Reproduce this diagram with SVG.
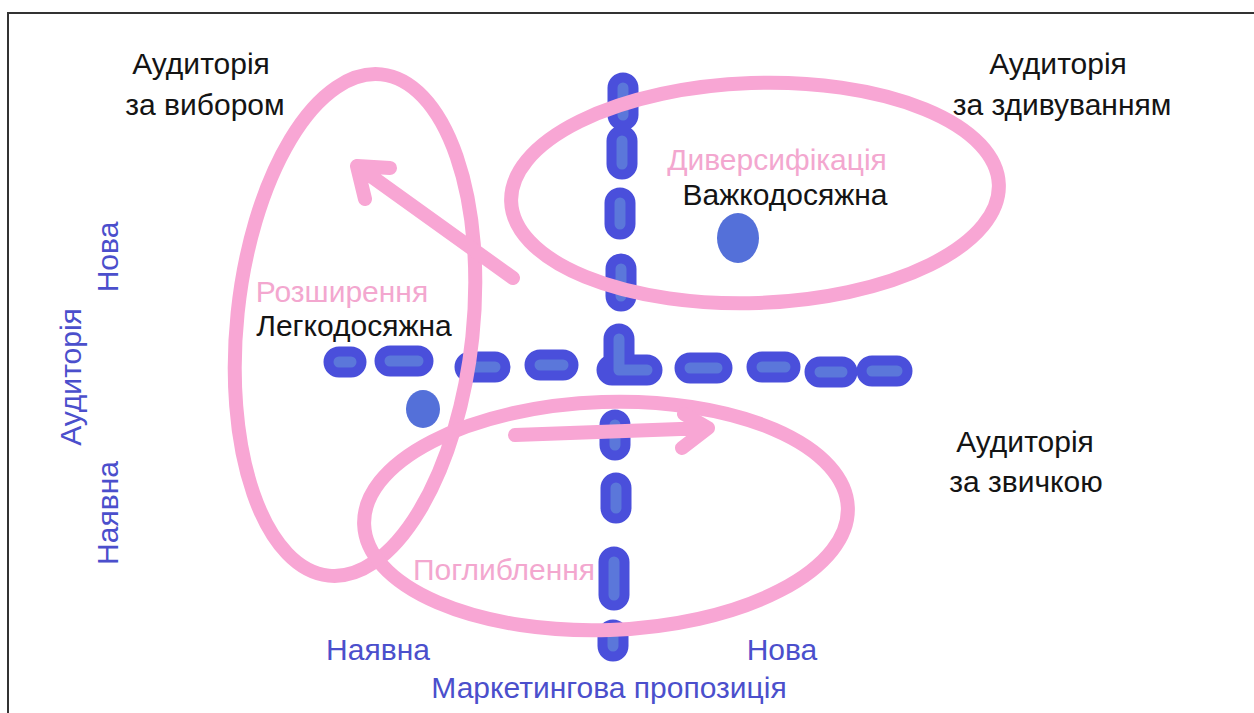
<svg xmlns="http://www.w3.org/2000/svg" width="1254" height="713" viewBox="0 0 1254 713">
<style>
text{font-family:"Liberation Sans",Arial,sans-serif;font-size:30px;text-anchor:middle}
.k{fill:#141414}
.p{fill:#f3a7cf}
.b{fill:#4b4fcc}
.o{fill:none;stroke:#4a4fdb;stroke-width:31;stroke-linecap:round;stroke-linejoin:round}
.i{fill:none;stroke:#5b77da;stroke-width:11;stroke-linecap:round;stroke-linejoin:round}
.pk{fill:none;stroke:#f8a6d4;stroke-width:14;stroke-linecap:round;stroke-linejoin:round}
.dot{fill:#5470d9}
</style>
<rect width="1254" height="713" fill="#fff"/>
<path d="M8,713 V13 H1254" fill="none" stroke="#333" stroke-width="2"/>

<g id="axes">
  <g class="o">
    <path d="M339,362H351M390,361H418M470,367H495M540,365H563M612,370H647M619,339V370M690,368H717M762,367H785M820,372H842M872,371H897"/>
    <path d="M623,88V115M622,141V164M620,203V224M621,269V296M615,425V445M616,488V508M614,562V595M613,635V646"/>
  </g>
  <g class="i">
    <path d="M339,362H351M390,361H418M470,367H495M540,365H563M619,370H647M619,339V370M690,368H717M762,367H785M820,372H842M872,371H897"/>
    <path d="M623,88V115M622,141V164M620,203V224M621,269V296M615,425V445M616,488V508M614,562V595M613,635V646"/>
  </g>
</g>

<g id="dots">
  <ellipse class="dot" cx="738" cy="238" rx="21" ry="25"/>
  <ellipse class="dot" cx="423" cy="409" rx="17" ry="19"/>
</g>

<g id="ellipses">
  <ellipse id="rozshyrennia-loop" class="pk" cx="355" cy="325" rx="118" ry="252" transform="rotate(6 355 325)"/>
  <ellipse id="dyversyfikatsiia-loop" class="pk" cx="755" cy="193" rx="244" ry="110" transform="rotate(-2 755 193)"/>
  <ellipse id="pohlyblennia-loop" class="pk" cx="606" cy="516" rx="242" ry="114" transform="rotate(-2 606 516)"/>
</g>

<g id="connectors">
  <path class="pk" d="M513,278L357,166M390,168L357,166L365,199"/>
  <path class="pk" d="M515,435L708,428M684,414L708,428L682,448"/>
</g>

<g id="labels">
  <text class="k" x="201" y="74">Аудиторія</text>
  <text class="k" x="205" y="115">за вибором</text>
  <text class="k" x="1058" y="74">Аудиторія</text>
  <text class="k" x="1062" y="115">за здивуванням</text>
  <text class="k" x="1025" y="452">Аудиторія</text>
  <text class="k" x="1026" y="492">за звичкою</text>
  <text class="p" x="777" y="170">Диверсифікація</text>
  <text class="k" x="785" y="205">Важкодосяжна</text>
  <text class="p" x="342" y="302">Розширення</text>
  <text class="k" x="354" y="336">Легкодосяжна</text>
  <text class="p" x="504" y="580">Поглиблення</text>
  <text class="b" x="378" y="660">Наявна</text>
  <text class="b" x="782" y="660">Нова</text>
  <text class="b" x="609" y="698">Маркетингова пропозиція</text>
  <text class="b" transform="translate(118 257) rotate(-90)">Нова</text>
  <text class="b" transform="translate(81 377) rotate(-90)">Аудиторія</text>
  <text class="b" transform="translate(118 513) rotate(-90)">Наявна</text>
</g>
</svg>
